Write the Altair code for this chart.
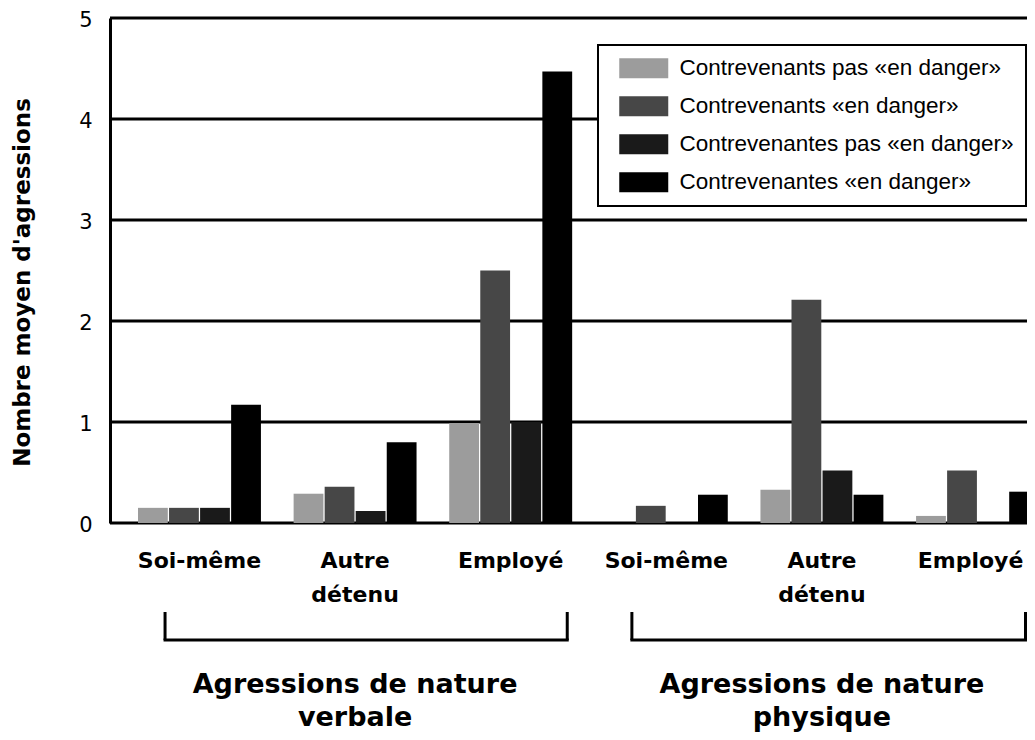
import altair as alt
import pandas as pd

# ---- data ----
series = [
    "Contrevenants pas «en danger»",
    "Contrevenants «en danger»",
    "Contrevenantes pas «en danger»",
    "Contrevenantes «en danger»",
]
couleurs = ["#9c9c9c", "#474747", "#1a1a1a", "#000000"]
natures = ["verbale", "physique"]
titres_nature = ["Agressions de nature\nverbale", "Agressions de nature\nphysique"]
cibles = ["Soi-même", "Autre détenu", "Employé"]
# order: verbale (soi, autre, employé), physique (soi, autre, employé)
s1 = [0.15, 0.29, 0.99, 0.00, 0.33, 0.07]
s2 = [0.15, 0.36, 2.50, 0.17, 2.21, 0.52]
s3 = [0.15, 0.12, 1.00, 0.00, 0.52, 0.00]
s4 = [1.17, 0.80, 4.47, 0.28, 0.28, 0.31]
y_ticks = [0, 1, 2, 3, 4, 5]
y_title = "Nombre moyen d'agressions"

keys = [f"{n}|{c}" for n in natures for c in cibles]
rows = []
for s, vals in zip(series, [s1, s2, s3, s4]):
    for k, v in zip(keys, vals):
        rows.append({"cle": k, "serie": s, "valeur": v})
df = pd.DataFrame(rows)

ann = pd.DataFrame({
    "nature": natures,
    "debut": [keys[0], keys[3]],
    "fin": [keys[2], keys[5]],
    "milieu": [keys[1], keys[4]],
    "titre": titres_nature,
})
grid_df = pd.DataFrame({"valeur": y_ticks})

W, H = 917, 505
xscale = alt.Scale(domain=keys, range=[28, 929], paddingInner=0.21, paddingOuter=0)
yscale = alt.Scale(domain=[0, 5], nice=False)
BOLD = "DejaVu Sans"

y_axis = alt.Axis(values=y_ticks, title=y_title, grid=False, domainColor="black",
                  domainWidth=3, ticks=False, labelFont="DejaVu Sans", labelFontSize=21,
                  labelColor="black", labelPadding=18, labelOffset=2,
                  titleFont=BOLD, titleFontSize=23, titleFontWeight="bold",
                  titleColor="black", titlePadding=44, titleY=264)

gridlines = alt.Chart(grid_df).mark_rule(color="black", strokeWidth=3).encode(
    y=alt.Y("valeur:Q", scale=yscale, axis=y_axis),
    x=alt.value(0), x2=alt.value(W),
)

bars = alt.Chart(df).mark_bar().encode(
    x=alt.X("cle:N", scale=xscale, title=None,
            axis=alt.Axis(domain=False, ticks=False, labelAngle=0,
                          labelExpr="split(split(datum.label, '|')[1], ' ')",
                          labelFont=BOLD, labelFontWeight="bold", labelFontSize=22,
                          labelLineHeight=34, labelPadding=27, labelColor="black",
                          labelLimit=300, labelOverlap=False,
                          labelOffset=alt.condition(f"datum.value == '{keys[5]}'",
                                                    alt.value(-7), alt.value(0)))),
    xOffset=alt.XOffset("serie:N", sort=series, scale=alt.Scale(paddingInner=0.04)),
    y=alt.Y("valeur:Q", stack=None, scale=yscale, axis=y_axis),
    color=alt.Color("serie:N", sort=series,
                    scale=alt.Scale(domain=series, range=couleurs),
                    legend=alt.Legend(title=None, orient="none", legendX=488, legendY=27,
                                      symbolType="M-0.2,-1H4.7V1H-0.2Z", symbolSize=400,
                                      symbolStrokeWidth=0, labelFont="Liberation Sans",
                                      labelFontSize=22.5, labelColor="black", labelOffset=47,
                                      labelLimit=500, padding=12, rowPadding=15,
                                      fillColor="white", strokeColor="black")),
)

base_ann = alt.Chart(ann)
layers = []
for nat, bp_end in zip(natures, [0.96, 0.89]):
    sub = base_ann.transform_filter(alt.datum.nature == nat)
    layers.append(sub.mark_rule(color="black", strokeWidth=3).encode(
        x=alt.X("debut:N", scale=xscale, bandPosition=0.22, title=None),
        y=alt.value(594), y2=alt.value(622)))
    layers.append(sub.mark_rule(color="black", strokeWidth=3).encode(
        x=alt.X("fin:N", scale=xscale, bandPosition=bp_end, title=None),
        y=alt.value(594), y2=alt.value(622)))
    layers.append(sub.mark_rule(color="black", strokeWidth=3, strokeCap="square").encode(
        x=alt.X("debut:N", scale=xscale, bandPosition=0.22, title=None),
        x2=alt.X2("fin:N", bandPosition=bp_end),
        y=alt.value(622)))

labels = base_ann.mark_text(
    font=BOLD, fontWeight="bold", fontSize=27, lineBreak="\n", lineHeight=33,
    baseline="middle", align="center", color="black",
).encode(
    x=alt.X("milieu:N", scale=xscale, bandPosition=0.5, title=None),
    y=alt.value(667),
    text="titre:N",
)

chart = alt.layer(gridlines, bars, *layers, labels).properties(
    width=W, height=H,
    autosize=alt.AutoSizeParams(type="none"),
    padding={"left": 102, "top": 10, "right": 0, "bottom": 209},
).configure_view(stroke=None).configure_legend(strokeWidth=2)

chart.save("out.html", embed_options={"renderer": "svg", "actions": False})
